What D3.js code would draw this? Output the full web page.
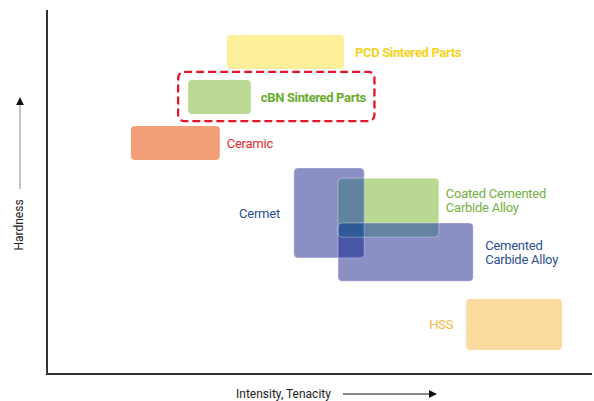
<!DOCTYPE html>
<html>
<head>
<meta charset="utf-8">
<script src="https://cdn.jsdelivr.net/npm/d3@7"></script>
<style>
  body { margin: 0; background: #fff; }
  svg { display: block; font-family: Roboto, "Noto Sans", sans-serif; }
</style>
</head>
<body>
<svg id="chart" width="594" height="401"></svg>
<script>
// tool materials, in tenacity (x) / hardness (y) units 0..100
var materials = ["PCD Sintered Parts", "cBN Sintered Parts", "Ceramic", "Coated Cemented Carbide Alloy", "Cemented Carbide Alloy", "Cermet", "HSS"];
var tenacityLo = [33.0, 25.9, 15.4, 53.4, 53.4, 45.3, 76.9];
var tenacityHi = [54.5, 37.4, 31.7, 71.9, 78.2, 58.2, 94.5];
var hardnessLo = [83.8, 71.4, 58.8, 37.6, 25.5, 31.9, 6.6];
var hardnessHi = [93.1, 80.8, 68.1, 53.8, 41.5, 56.6, 20.6];
var labelLines = [["PCD Sintered Parts"], ["cBN Sintered Parts"], ["Ceramic"], ["Coated Cemented", "Carbide Alloy"], ["Cemented", "Carbide Alloy"], ["Cermet"], ["HSS"]];

var fills = ["#fef09a", "#bcd895", "#f29f78", "#b9d891", "#8b8fc4", "#8b8fc4", "#fbdba0"];
var textColors = ["#f6d21c", "#6aab2e", "#e52b2b", "#76b043", "#2c4f94", "#2c4f94", "#f5b946"];
var labelSide = ["right", "right", "right", "right", "right", "left", "left"];
var labelBold = [true, true, false, false, false, false, false];

// overlapping boxes (indexes into the arrays above) and the colour where they overlap
var overlaps = [
    { boxes: [3, 5], fill: "#6283a0" },
    { boxes: [3, 4], fill: "#6283a2" },
    { boxes: [4, 5], fill: "#4a56a6" },
    { boxes: [3, 4, 5], fill: "#2f5a98" }
];

var svg = d3.select("#chart");
var defs = svg.append("defs");
var x = d3.scaleLinear().domain([0, 100]).range([47, 592]);
var y = d3.scaleLinear().domain([0, 100]).range([374, 10]);

var rows = materials.map(function (m, i) {
    return { name: m, x0: tenacityLo[i], x1: tenacityHi[i], y0: hardnessLo[i], y1: hardnessHi[i], i: i };
});

function boxAttrs(sel) {
    sel.attr("x", function (d) { return x(d.x0); })
        .attr("y", function (d) { return y(d.y1); })
        .attr("width", function (d) { return x(d.x1) - x(d.x0); })
        .attr("height", function (d) { return y(d.y0) - y(d.y1); })
        .attr("rx", 4);
}

// one clip per box so overlaps follow the rounded corners
defs.selectAll("clipPath").data(rows).join("clipPath")
    .attr("id", function (d) { return "clip" + d.i; })
    .append("rect").call(boxAttrs);

// boxes
svg.append("g").selectAll("rect").data(rows).join("rect")
    .call(boxAttrs)
    .attr("fill", function (d) { return fills[d.i]; });

// overlap areas
overlaps.forEach(function (o) {
    var g = svg.append("g");
    var inner = g;
    o.boxes.slice(1).forEach(function (b) {
        inner = inner.append("g").attr("clip-path", "url(#clip" + b + ")");
    });
    inner.append("rect").datum(rows[o.boxes[0]]).call(boxAttrs).attr("fill", o.fill);
});

// faint light outlines on top
svg.append("g").selectAll("rect").data(rows.filter(function (d) { return d.i >= 3 && d.i <= 5; })).join("rect")
    .call(boxAttrs)
    .attr("fill", "none")
    .attr("stroke", "rgba(255,255,255,0.35)")
    .attr("stroke-width", 1);

// labels
var offsets = [
    { dx: 11, dy: 0 }, { dx: 10, dy: 0 }, { dx: 7, dy: 0 },
    { dx: 7, dy: -8 }, { dx: 12, dy: 0 }, { dx: -14, dy: 0 }, { dx: -13, dy: 0 }
];
var labels = svg.append("g").selectAll("text").data(rows).join("text")
    .attr("fill", function (d) { return textColors[d.i]; })
    .attr("font-size", 13)
    .attr("font-weight", function (d) { return labelBold[d.i] ? 700 : 400; })
    .attr("letter-spacing", function (d) { return labelBold[d.i] ? -0.35 : -0.25; })
    .attr("text-anchor", function (d) { return labelSide[d.i] === "left" ? "end" : "start"; })
    .attr("transform", function (d) {
        var o = offsets[d.i];
        var tx = labelSide[d.i] === "left" ? x(d.x0) + o.dx : x(d.x1) + o.dx;
        var ty = (y(d.y0) + y(d.y1)) / 2 + o.dy;
        return "translate(" + tx + "," + ty + ")";
    });
labels.selectAll("tspan").data(function (d) {
        var n = labelLines[d.i].length;
        return labelLines[d.i].map(function (t, k) { return { t: t, k: k, n: n }; });
    }).join("tspan")
    .attr("x", 0)
    .attr("y", function (d) { return (d.k - (d.n - 1) / 2) * 14 + 5; })
    .text(function (d) { return d.t; });

// dashed highlight around cBN
var cbn = rows[1];
var cbnLabel = labels.filter(function (d) { return d.i === 1; }).node().getBBox();
var cbnLabelRight = x(cbn.x1) + offsets[1].dx + cbnLabel.width;
svg.append("rect")
    .attr("x", x(cbn.x0) - 10)
    .attr("y", y(cbn.y1) - 8)
    .attr("width", cbnLabelRight + 8 - (x(cbn.x0) - 10))
    .attr("height", y(cbn.y0) - y(cbn.y1) + 15)
    .attr("rx", 6)
    .attr("fill", "none")
    .attr("stroke", "#e3162b")
    .attr("stroke-width", 2.3)
    .attr("stroke-dasharray", "8,4");

// axes frame
svg.append("line").attr("x1", x(0)).attr("x2", x(0)).attr("y1", y(100)).attr("y2", y(0))
    .attr("stroke", "#333").attr("stroke-width", 2);
svg.append("line").attr("x1", x(0) - 1).attr("x2", x(100)).attr("y1", y(0)).attr("y2", y(0))
    .attr("stroke", "#333").attr("stroke-width", 2);

// axis titles with arrows
defs.append("marker").attr("id", "arr").attr("viewBox", "0 0 10 10")
    .attr("refX", 9).attr("refY", 5).attr("markerWidth", 8).attr("markerHeight", 8)
    .attr("markerUnits", "userSpaceOnUse").attr("orient", "auto")
    .append("path").attr("d", "M0,0 L10,5 L0,10 Z").attr("fill", "#111");

svg.append("text").attr("transform", "translate(23,225) rotate(-90)")
    .attr("text-anchor", "middle").attr("font-size", 12).attr("fill", "#222")
    .text("Hardness");
svg.append("line").attr("x1", 20).attr("x2", 20).attr("y1", 189).attr("y2", 98)
    .attr("stroke", "#888").attr("stroke-width", 1).attr("marker-end", "url(#arr)");

svg.append("text").attr("x", 236).attr("y", 398)
    .attr("font-size", 12).attr("fill", "#222")
    .text("Intensity, Tenacity");
svg.append("line").attr("x1", 343).attr("x2", 436).attr("y1", 394).attr("y2", 394)
    .attr("stroke", "#111").attr("stroke-width", 1).attr("marker-end", "url(#arr)");
</script>
</body>
</html>
